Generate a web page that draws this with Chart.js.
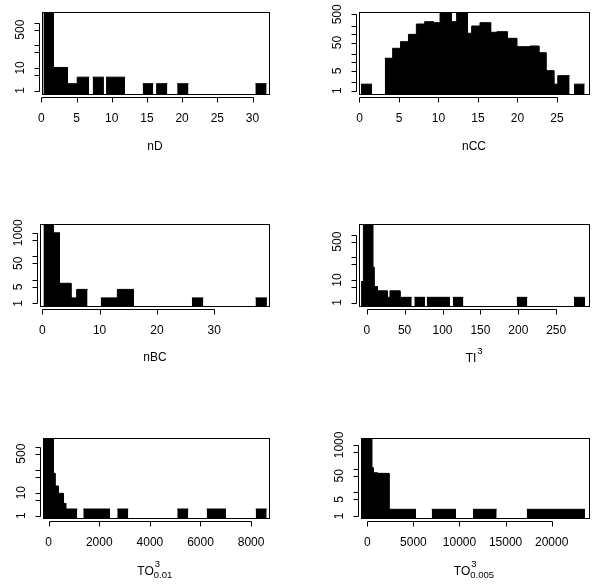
<!DOCTYPE html>
<html>
<head>
<meta charset="utf-8">
<title>Histograms on a log count axis</title>
<script src="https://cdn.jsdelivr.net/npm/chart.js@4.4.1/dist/chart.umd.min.js"></script>
<style>
  html, body { margin: 0; padding: 0; background: #fff; }
  #page { position: relative; width: 600px; height: 586px; overflow: hidden; }
  #page canvas { position: absolute; left: 0; top: 0; }
  .xlab { position: absolute; transform: translate(-50%, -50%); font: 12px 'Liberation Sans', Arial, sans-serif; color: #000; white-space: nowrap; }
  .scr { display: inline-block; position: relative; height: 12px; vertical-align: baseline; }
  .scr span { position: absolute; left: 0; font-size: 9.5px; line-height: 10px; }
  .scr .sup { top: -4px; left: 1px; }
  .scr .sub { top: 7px; }
</style>
</head>
<body>
<div id="page">
  <canvas id="c1" width="600" height="586"></canvas>
  <canvas id="c2" width="600" height="586"></canvas>
  <canvas id="c3" width="600" height="586"></canvas>
  <canvas id="c4" width="600" height="586"></canvas>
  <canvas id="c5" width="600" height="586"></canvas>
  <canvas id="c6" width="600" height="586"></canvas>
  <div class="xlab" style="left:155px; top:146px">nD</div>
  <div class="xlab" style="left:474px; top:146px">nCC</div>
  <div class="xlab" style="left:155px; top:357px">nBC</div>
  <div class="xlab" style="left:474px; top:357px">TI<span class="scr" style="width:6px"><span class="sup">3</span></span></div>
  <div class="xlab" style="left:155px; top:570px">TO<span class="scr" style="width:19px"><span class="sup">3</span><span class="sub">0.01</span></span></div>
  <div class="xlab" style="left:474px; top:570px">TO<span class="scr" style="width:24px"><span class="sup">3</span><span class="sub">0.005</span></span></div>
</div>
<script>
// bin edges (left / right) and bar heights

// nD
const ndLeft  = [0.3, 1.7, 3.7, 5.1, 7.3, 9.2, 14.4, 16.3, 19.3, 30.4];
const ndRight = [1.7, 3.7, 5.1, 6.8, 8.9, 11.9, 15.9, 17.9, 20.9, 32.0];
const ndCount = [5000, 10.5, 2, 3.9, 3.9, 3.9, 2, 2, 2, 2];
const ndTicks = [0, 5, 10, 15, 20, 25, 30];

// nCC
const nccLeft  = [0.2, 3.2, 4.2, 5.2, 6.2, 7.2, 8.25, 9.35, 10.2, 11.6, 12.3, 13.65, 14.2, 15.25, 16.6, 17.4, 18.7, 19.9, 21.6, 22.7, 23.6, 24.6, 25.1, 27.15];
const nccRight = [1.6, 4.2, 5.2, 6.2, 7.2, 8.25, 9.35, 10.2, 11.6, 12.3, 13.65, 14.2, 15.25, 16.6, 17.4, 18.7, 19.9, 21.6, 22.7, 23.6, 24.6, 25.1, 26.6, 28.5];
const nccCount = [1.7, 14, 31.5, 54, 98, 227, 274, 253, 5000, 274, 5000, 107, 193, 253, 116, 122, 71, 36, 38, 22, 5.1, 1.7, 3.4, 1.7];
const nccTicks = [0, 5, 10, 15, 20, 25];

// nBC
const nbcLeft  = [0.2, 1.9, 3.0, 5.0, 6.0, 10.2, 13.1, 26.1, 37.2];
const nbcRight = [1.9, 3.0, 5.0, 6.0, 7.9, 13.1, 16.0, 28.1, 39.2];
const nbcCount = [5000, 1000, 7.1, 1.7, 3.9, 1.7, 3.9, 1.7, 1.7];
const nbcTicks = [0, 10, 20, 30];

// TI^3
const tiLeft  = [-7.5, -4.4, 7.9, 9.6, 14, 27.2, 30.7, 43.9, 62.8, 79.2, 113.5, 197.9, 273.5];
const tiRight = [-4.4, 7.9, 9.6, 14, 27.2, 30.7, 43.9, 59.4, 76.9, 109.9, 127.5, 211.9, 288];
const tiCount = [8.5, 5000, 37, 5.1, 3.3, 1.7, 3.3, 1.7, 1.7, 1.7, 1.7, 1.7, 1.7];
const tiTicks = [0, 50, 100, 150, 200, 250];

// TO^3 (0.01)
const to1Left  = [-213, 182, 249, 379, 577, 672, 1368, 2711, 5083, 6245, 8182];
const to1Right = [182, 249, 379, 577, 672, 1130, 2423, 3146, 5518, 7008, 8617];
const to1Count = [5000, 70, 19.6, 9.4, 3.45, 1.95, 1.95, 1.95, 1.95, 1.95, 1.95];
const to1Ticks = [0, 2000, 4000, 6000, 8000];

// TO^3 (0.005)
const to2Left  = [-683, 477, 651, 1085, 2354, 6985, 11464, 17289];
const to2Right = [477, 651, 1085, 2354, 5282, 9620, 14035, 23612];
const to2Count = [5000, 109, 67, 63, 1.92, 1.92, 1.92, 1.92];
const to2Ticks = [0, 5000, 10000, 15000, 20000];

// count axis ticks and the ones that get a label
const logTicks  = [1, 5, 10, 50, 100, 500, 1000];
const logTicks2 = [1, 2, 5, 10, 20, 50, 100, 200, 500];
const labA = [1, 10, 500];
const labB = [1, 5, 50, 500];
const labC = [1, 5, 50, 1000];

const FONT = "'Liberation Sans', Arial, Helvetica, sans-serif";
const FONT_SIZE = 12;

// turn bins into a step outline; a null breaks the fill between separate bars
function histPoints(left, right, count) {
  const pts = [];
  for (let i = 0; i < count.length; i++) {
    if (i > 0 && left[i] !== right[i - 1]) {
      pts.push({ x: (right[i - 1] + left[i]) / 2, y: null });
    }
    pts.push({ x: left[i], y: count[i] });
    pts.push({ x: right[i], y: count[i] });
  }
  return pts;
}

// R-like frame, detached axes and rotated y labels
const rAxes = {
  id: 'rAxes',
  afterDraw(chart, args, o) {
    const { ctx, chartArea: a } = chart;
    const xs = chart.scales.x, ys = chart.scales.y;
    ctx.save();
    ctx.strokeStyle = '#000';
    ctx.fillStyle = '#000';
    ctx.lineWidth = 1;

    ctx.strokeRect(a.left + 0.5, a.top + 0.5, a.right - a.left, a.bottom - a.top);

    // x axis
    const ya = Math.round(a.bottom + o.gap) + 0.5;
    const px = v => Math.round(xs.getPixelForValue(v)) + 0.5;
    ctx.beginPath();
    ctx.moveTo(px(o.xTicks[0]), ya);
    ctx.lineTo(px(o.xTicks[o.xTicks.length - 1]), ya);
    o.xTicks.forEach(v => { ctx.moveTo(px(v), ya); ctx.lineTo(px(v), ya + o.tick); });
    ctx.stroke();

    // y axis
    const xa = Math.round(a.left - o.gap) + 0.5;
    const py = v => Math.round(ys.getPixelForValue(v)) + 0.5;
    ctx.beginPath();
    ctx.moveTo(xa, py(o.yTicks[0]));
    ctx.lineTo(xa, py(o.yTicks[o.yTicks.length - 1]));
    o.yTicks.forEach(v => { ctx.moveTo(xa, py(v)); ctx.lineTo(xa - o.tick, py(v)); });
    ctx.stroke();

    ctx.font = FONT_SIZE + 'px ' + FONT;
    ctx.textAlign = 'center';
    ctx.textBaseline = 'middle';
    o.yLabels.forEach(v => {
      ctx.save();
      ctx.translate(a.left - o.labelDist, ys.getPixelForValue(v));
      ctx.rotate(-Math.PI / 2);
      ctx.fillText(String(v), 0, 0);
      ctx.restore();
    });
    ctx.restore();
  }
};

const panels = [
  { id: 'c1', box: [42, 12, 269, 94],   xr: [0.1, 32.34],  yr: [0.738, 3020], xTicks: ndTicks,  yTicks: logTicks,  yLabels: labA, left: ndLeft,  right: ndRight,  count: ndCount },
  { id: 'c2', box: [359, 12, 589, 94],  xr: [-0.06, 29.05], yr: [0.764, 604], xTicks: nccTicks, yTicks: logTicks2, yLabels: labB, left: nccLeft, right: nccRight, count: nccCount },
  { id: 'c3', box: [40, 224, 269, 306], xr: [-0.4, 39.56], yr: [0.767, 2368], xTicks: nbcTicks, yTicks: logTicks,  yLabels: labC, left: nbcLeft, right: nbcRight, count: nbcCount },
  { id: 'c4', box: [359, 224, 589, 306], xr: [-10.2, 293.3], yr: [0.715, 3037], xTicks: tiTicks, yTicks: logTicks,  yLabels: labA, left: tiLeft,  right: tiRight,  count: tiCount },
  { id: 'c5', box: [43, 438, 269, 518], xr: [-225, 8708],  yr: [0.794, 2390], xTicks: to1Ticks, yTicks: logTicks,  yLabels: labA, left: to1Left, right: to1Right, count: to1Count },
  { id: 'c6', box: [361, 438, 589, 518], xr: [-683, 24046], yr: [0.823, 1960], xTicks: to2Ticks, yTicks: logTicks,  yLabels: labC, left: to2Left, right: to2Right, count: to2Count }
];

const X_AXIS_H = 40;

panels.forEach(p => {
  const [L, T, R, B] = p.box;
  new Chart(document.getElementById(p.id), {
    type: 'line',
    data: {
      datasets: [{
        data: histPoints(p.left, p.right, p.count),
        borderColor: '#000',
        backgroundColor: '#000',
        borderWidth: 1,
        pointRadius: 0,
        tension: 0,
        spanGaps: false,
        fill: 'start'
      }]
    },
    options: {
      responsive: false,
      animation: false,
      devicePixelRatio: 1,
      events: [],
      layout: { padding: { left: L, top: T, right: 600 - R, bottom: 586 - B - X_AXIS_H } },
      plugins: {
        legend: { display: false },
        tooltip: { enabled: false },
        rAxes: { xTicks: p.xTicks, yTicks: p.yTicks, yLabels: p.yLabels, gap: 3, tick: 5, labelDist: 21 }
      },
      scales: {
        x: {
          type: 'linear',
          min: p.xr[0],
          max: p.xr[1],
          grid: { display: false, drawTicks: false, tickLength: 0 },
          border: { display: false },
          afterBuildTicks: s => { s.ticks = p.xTicks.map(v => ({ value: v })); },
          afterFit: s => { s.height = X_AXIS_H; },
          ticks: {
            autoSkip: false,
            maxRotation: 0,
            minRotation: 0,
            padding: 17,
            color: '#000',
            font: { family: FONT, size: FONT_SIZE },
            callback: v => String(v)
          }
        },
        y: {
          type: 'logarithmic',
          min: p.yr[0],
          max: p.yr[1],
          display: false
        }
      }
    },
    plugins: [rAxes]
  });
});
</script>
</body>
</html>
